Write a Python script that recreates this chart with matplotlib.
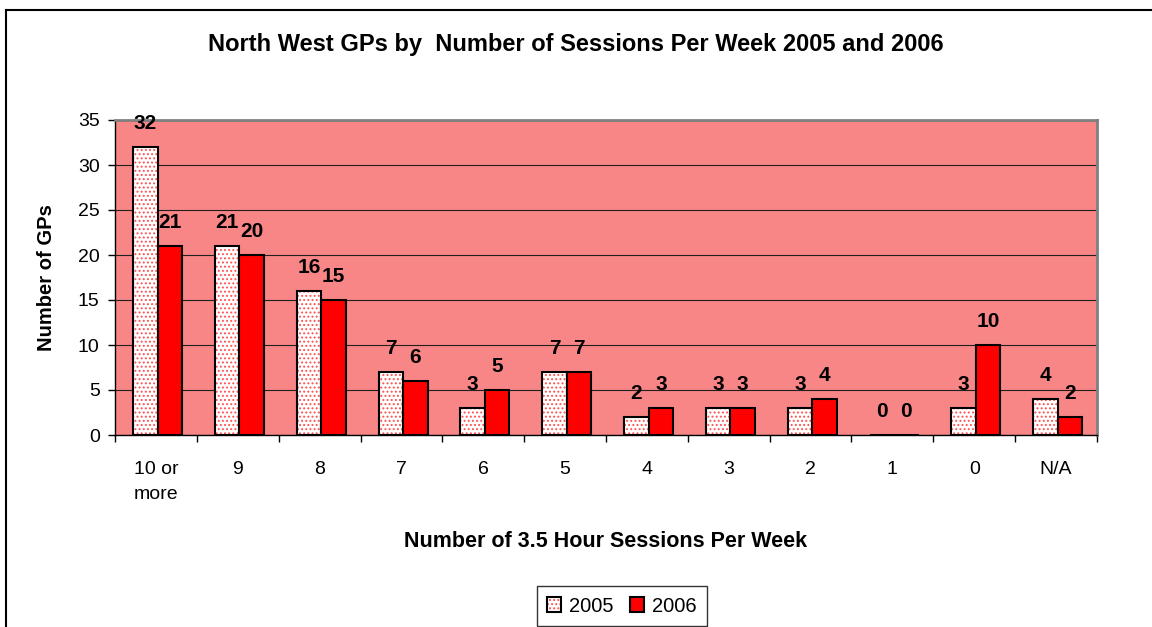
import matplotlib.pyplot as plt
import numpy as np
from matplotlib.lines import Line2D

plt.rcParams['font.family'] = ['Liberation Sans', 'DejaVu Sans']
plt.rcParams['hatch.linewidth'] = 0.9

categorias = ['10 or\nmore', '9', '8', '7', '6', '5', '4', '3', '2', '1', '0', 'N/A']
valores_2005 = [32, 21, 16, 7, 3, 7, 2, 3, 3, 0, 3, 4]
valores_2006 = [21, 20, 15, 6, 5, 7, 3, 3, 4, 0, 10, 2]

fig = plt.figure(figsize=(11.52, 6.27), dpi=100)
ax = fig.add_axes([115 / 1152, 1 - 435 / 627, (1097 - 115) / 1152, (435 - 120) / 627])

x = np.arange(len(categorias))
ancho = 0.3
desp = 0.02

# Fondo del area de trazado
ax.set_facecolor('#F88686')
ax.set_axisbelow(True)
ax.yaxis.grid(True, color='#202020', linewidth=0.8)

# 2005: blanco con puntos rojos, borde negro
ax.bar(x - ancho / 2 + desp, valores_2005, ancho, color='white', edgecolor='#FF5050',
       hatch='....', linewidth=0, zorder=2)
ax.bar(x - ancho / 2 + desp, valores_2005, ancho, fill=False, edgecolor='black',
       linewidth=1.5, zorder=3)
# 2006: rojo
ax.bar(x + ancho / 2 + desp, valores_2006, ancho, color='red', edgecolor='black',
       linewidth=1.5, zorder=3)

for xi, v in zip(x, valores_2005):
    ax.annotate(str(v), (xi - ancho / 2 + desp, v), xytext=(0, 17), textcoords='offset points',
                ha='center', va='center', fontsize=15, fontweight='bold', zorder=4)
for xi, v in zip(x, valores_2006):
    ax.annotate(str(v), (xi + ancho / 2 + desp, v), xytext=(0, 17), textcoords='offset points',
                ha='center', va='center', fontsize=15, fontweight='bold', zorder=4)

ax.set_xlim(-0.5, len(categorias) - 0.5)
ax.set_ylim(0, 35)
ax.set_yticks(range(0, 36, 5))
ax.tick_params(axis='y', labelsize=14, length=5, direction='out', width=1, pad=6)

ax.set_xticks(x)
ax.set_xticklabels(categorias, fontsize=14, linespacing=1.6, va='top')
ax.tick_params(axis='x', length=0, pad=19)
# marcas entre categorias
ax.set_xticks(np.arange(-0.5, len(categorias)), minor=True)
ax.tick_params(axis='x', which='minor', length=5, width=1, direction='out')

for lado in ['top', 'right']:
    ax.spines[lado].set_color('#808080')
    ax.spines[lado].set_linewidth(2)
for lado in ['left', 'bottom']:
    ax.spines[lado].set_color('black')
    ax.spines[lado].set_linewidth(1)

ax.set_ylabel('Number of GPs', fontsize=14.5, fontweight='bold', labelpad=16)
ax.set_xlabel('Number of 3.5 Hour Sessions Per Week', fontsize=15.5,
              fontweight='bold', labelpad=20)
fig.text(0.5, 1 - 44 / 627, 'North West GPs by  Number of Sessions Per Week 2005 and 2006',
         ha='center', va='center', fontsize=17, fontweight='bold')

# Leyenda
h1a = plt.Rectangle((0, 0), 1, 1, facecolor='white', edgecolor='#FF5050', hatch='....', linewidth=0)
h1b = plt.Rectangle((0, 0), 1, 1, fill=False, edgecolor='black', linewidth=1.5)
h2 = plt.Rectangle((0, 0), 1, 1, facecolor='red', edgecolor='black', linewidth=1.5)
leg = fig.legend([(h1a, h1b), h2], ['2005', '2006'], loc='center', ncol=2,
                 bbox_to_anchor=(622 / 1152, 1 - 606 / 627), fontsize=14.5,
                 frameon=True, fancybox=False, edgecolor='black',
                 handlelength=0.7, handleheight=0.7, handletextpad=0.4,
                 columnspacing=0.8, borderpad=0.5)
leg.get_frame().set_linewidth(1)

# Marco del grafico
fig.add_artist(Line2D([6 / 1152, 1], [1 - 10 / 627, 1 - 10 / 627], color='black', linewidth=1.5))
fig.add_artist(Line2D([6 / 1152, 6 / 1152], [0, 1 - 10 / 627], color='black', linewidth=1.5))

fig.savefig('out.png', dpi=100)
